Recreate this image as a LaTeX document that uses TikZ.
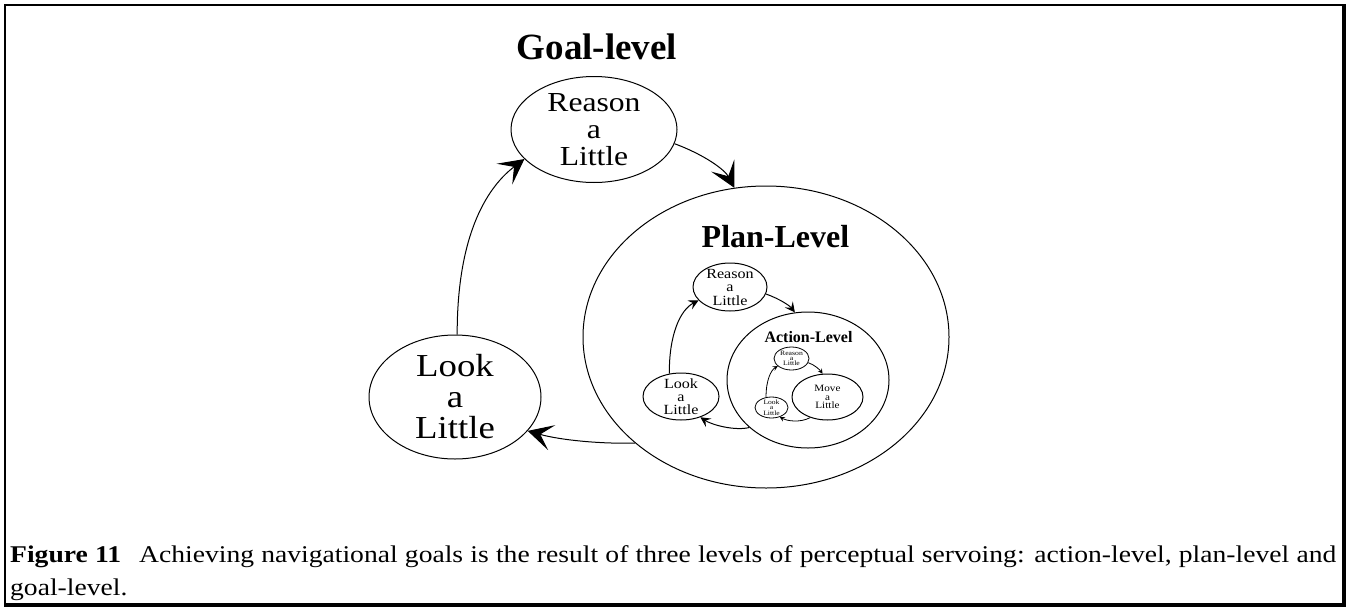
\documentclass[tikz,border=0pt]{standalone}
\usepackage{fontspec}
\setmainfont{Liberation Serif}
\newfontfamily\wide{Liberation Serif}[FakeStretch=1.15]
\usetikzlibrary{shapes.geometric,arrows.meta}
\begin{document}
\begin{tikzpicture}[x=1pt,y=-1pt]
	% Define styles for the ovals, texts and arrows
	\tikzstyle{oval} = [ellipse, draw, line width=1pt, inner sep=0pt]
	\tikzstyle{title} = [inner sep=0pt, anchor=base]
	\tikzstyle{words} = [align=center, inner sep=0pt]
	\tikzstyle{bigarrow} = [line width=1pt, -{Stealth[length=25pt,width=26pt,inset=12pt]}]
	\tikzstyle{midarrow} = [line width=1pt, -{Stealth[length=10pt,width=10pt,inset=4pt]}]
	\tikzstyle{tinyarrow} = [line width=0.8pt, -{Stealth[length=5pt,width=5pt,inset=2pt]}]

	\useasboundingbox (0,0) rectangle (1346,608);

	% The frame round figure and caption
	\draw[line width=2.5pt] (5,605) -- (5,5) -- (1344,5);
	\draw[line width=3.5pt] (1344,4) -- (1344,605) -- (4,605);

	% Goal level
	\node[title, font=\fontsize{37}{37}\selectfont\bfseries] (goaltitle) at (597,59) {Goal-level};
	\node[oval, minimum width=166pt, minimum height=106pt] (goalreason) at (594,129.5) {};
	\node[oval, minimum width=172pt, minimum height=124pt] (goallook) at (455,397) {};
	\node[words, font=\fontsize{27.5}{27}\wide] (goalreasontxt) at (goalreason) {Reason\\a\\Little};
	\node[words, font=\fontsize{32}{31}\wide] (goallooktxt) at (goallook) {Look\\a\\Little};

	% Plan level
	\node[oval, minimum width=366pt, minimum height=302pt] (plan) at (766,337) {};
	\node[title, font=\fontsize{32}{32}\selectfont\bfseries] (plantitle) at (775.5,247) {Plan-Level};
	\node[oval, minimum width=74pt, minimum height=48pt] (planreason) at (730,287) {};
	\node[oval, minimum width=76pt, minimum height=47pt] (planlook) at (681,396.5) {};
	\node[words, font=\fontsize{14}{13.5}\wide] (planreasontxt) at (planreason) {Reason\\a\\Little};
	\node[words, font=\fontsize{14}{13}\wide] (planlooktxt) at (planlook) {Look\\a\\Little};

	% Action level
	\node[oval, minimum width=162pt, minimum height=136pt] (action) at (808,380) {};
	\node[title, font=\fontsize{16}{16}\selectfont\bfseries] (acttitle) at (808.5,342) {Action-Level};
	\node[oval, line width=0.8pt, minimum width=35pt, minimum height=23pt] (actreason) at (791.5,358.5) {};
	\node[oval, line width=0.8pt, minimum width=33pt, minimum height=21pt] (actlook) at (771.5,407.5) {};
	\node[oval, minimum width=71pt, minimum height=46pt] (actmove) at (827.5,397) {};
	\node[words, font=\fontsize{6.7}{5}\wide] (actreasontxt) at (actreason) {Reason\\a\\Little};
	\node[words, font=\fontsize{6.6}{5.5}\wide] (actlooktxt) at (actlook) {Look\\a\\Little};
	\node[words, font=\fontsize{9.7}{8.7}\wide] (actmovetxt) at (actmove) {Move\\a\\Little};

	% Arrows of the goal level
	\draw[bigarrow] (goalreason.-10) .. controls (705,155) and (725,170) .. (plan.102);
	\draw[bigarrow] (plan.-141) .. controls (600,444) and (560,440) .. (goallook.-25);
	\draw[bigarrow] (goallook.88) .. controls (457,230) and (490,185) .. (goalreason.-157);

	% Arrows of the plan level
	\draw[midarrow] (planlook.117) .. controls (669,335) and (680,310) .. (planreason.-157);
	\draw[midarrow] (planreason.-11) .. controls (780,299) and (790,306) .. (action.101);
	\draw[midarrow] (action.-141) .. controls (735,431) and (712,425) .. (planlook.-47);

	% Arrows of the action level
	\draw[tinyarrow] (actlook.118) .. controls (766,380) and (771,370) .. (actreason.-151);
	\draw[tinyarrow] (actreason.-14) .. controls (815,365) and (820,370) .. (actmove.102);
	\draw[tinyarrow] (actmove.-130) .. controls (800,423) and (787,421) .. (actlook.-49);

	% Caption
	\node[anchor=base west, text width=1326pt, align=justify, inner sep=0pt,
		font=\fontsize{24}{33}\wide] (caption) at (10,562)
		{\textbf{Figure 11}\hspace{0.75em}Achieving navigational goals is the result of three levels of perceptual servoing: action-level, plan-level and\linebreak goal-level.};
\end{tikzpicture}
\end{document}
